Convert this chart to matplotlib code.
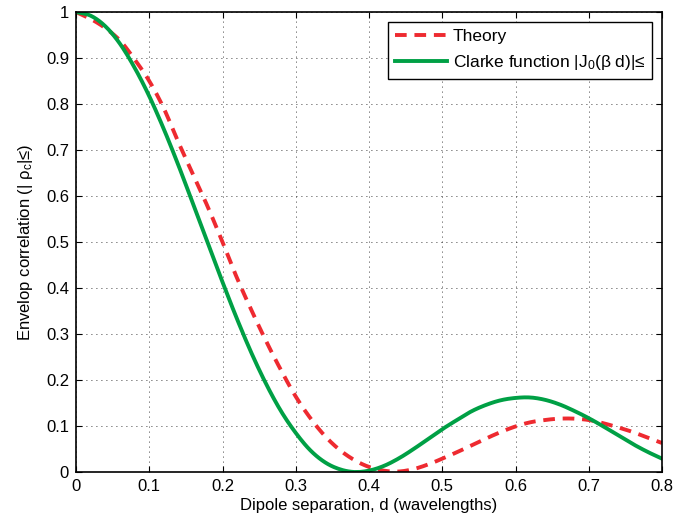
import numpy as np
import matplotlib
matplotlib.use("Agg")
import matplotlib.pyplot as plt
from matplotlib.ticker import FuncFormatter

# values
d = [0.00, 0.02, 0.04, 0.06, 0.08, 0.10, 0.12, 0.14, 0.16, 0.18, 0.20,
     0.22, 0.24, 0.26, 0.28, 0.30, 0.32, 0.34, 0.36, 0.38, 0.40,
     0.42, 0.44, 0.46, 0.48, 0.50, 0.52, 0.54, 0.56, 0.58, 0.60,
     0.62, 0.64, 0.66, 0.68, 0.70, 0.72, 0.74, 0.76, 0.78, 0.80]

theory = [1.000, 0.985, 0.965, 0.938, 0.897, 0.850, 0.790, 0.716, 0.646, 0.576, 0.500,
          0.421, 0.350, 0.283, 0.221, 0.164, 0.117, 0.078, 0.048, 0.026, 0.011,
          0.003, 0.001, 0.006, 0.016, 0.029, 0.043, 0.058, 0.073, 0.087, 0.099,
          0.108, 0.113, 0.116, 0.116, 0.113, 0.106, 0.097, 0.087, 0.075, 0.063]

clarke = [1.000, 0.992, 0.969, 0.931, 0.879, 0.817, 0.745, 0.666, 0.582, 0.497, 0.413,
          0.332, 0.257, 0.190, 0.132, 0.085, 0.047, 0.021, 0.006, 0.000, 0.003,
          0.013, 0.029, 0.049, 0.071, 0.093, 0.113, 0.132, 0.146, 0.156, 0.161,
          0.162, 0.157, 0.147, 0.133, 0.117, 0.099, 0.080, 0.061, 0.044, 0.029]

x_ticks = [0, 0.1, 0.2, 0.3, 0.4, 0.5, 0.6, 0.7, 0.8]
y_ticks = [0, 0.1, 0.2, 0.3, 0.4, 0.5, 0.6, 0.7, 0.8, 0.9, 1]


def smooth(x, y, n=10):
    # Catmull-Rom through the read points, only to draw a smooth line
    x = np.asarray(x, float)
    y = np.asarray(y, float)
    yp = np.concatenate([[2 * y[0] - y[1]], y, [2 * y[-1] - y[-2]]])
    xo, yo = [], []
    for i in range(len(x) - 1):
        t = np.linspace(0, 1, n, endpoint=False)
        p0, p1, p2, p3 = yp[i], yp[i + 1], yp[i + 2], yp[i + 3]
        yo.append(0.5 * (2 * p1 + (-p0 + p2) * t + (2 * p0 - 5 * p1 + 4 * p2 - p3) * t ** 2
                         + (-p0 + 3 * p1 - 3 * p2 + p3) * t ** 3))
        xo.append(x[i] + (x[i + 1] - x[i]) * t)
    xo.append([x[-1]])
    yo.append([y[-1]])
    return np.concatenate(xo), np.clip(np.concatenate(yo), 0, None)


plt.rcParams["font.family"] = ["Liberation Sans", "DejaVu Sans"]
plt.rcParams["mathtext.fontset"] = "custom"
plt.rcParams["mathtext.rm"] = "Liberation Sans"
plt.rcParams["mathtext.it"] = "Liberation Sans"

fig = plt.figure(figsize=(6.73, 5.24), dpi=100)
ax = fig.add_axes([76 / 673, 1 - 472 / 524, 586 / 673, 460 / 524])

tx, ty = smooth(d, theory)
cx, cy = smooth(d, clarke)
ax.plot(tx, ty, "--", color="#ee2a30", lw=2.8, dashes=(3.0, 2.0), label="Theory")
ax.plot(cx, cy, "-", color="#00a045", lw=2.8,
        label=r"Clarke function |J$_0$(β d)|≤")

ax.set_xlim(0, 0.8)
ax.set_ylim(0, 1)
ax.set_xticks(x_ticks)
ax.set_yticks(y_ticks)
fmt = FuncFormatter(lambda v, p: "%g" % round(v, 2))
ax.xaxis.set_major_formatter(fmt)
ax.yaxis.set_major_formatter(fmt)
ax.tick_params(direction="in", top=True, right=True, labelsize=12, length=4, pad=5)
ax.grid(True, color="black", linestyle=(0, (1, 5)), linewidth=0.6)
for s in ax.spines.values():
    s.set_linewidth(1.2)

ax.set_xlabel("Dipole separation, d (wavelengths)", fontsize=12, labelpad=3)
ax.set_ylabel(r"Envelop correlation (| ρ$_c$|≤)", fontsize=12, labelpad=8)

leg = ax.legend(loc="upper right", fontsize=12.5, frameon=True, fancybox=False,
                edgecolor="black", framealpha=1, handlelength=3.0,
                borderaxespad=0.55, borderpad=0.4, labelspacing=0.55,
                handletextpad=0.3)
leg.get_frame().set_linewidth(1.0)

fig.savefig("out.png", dpi=100)
